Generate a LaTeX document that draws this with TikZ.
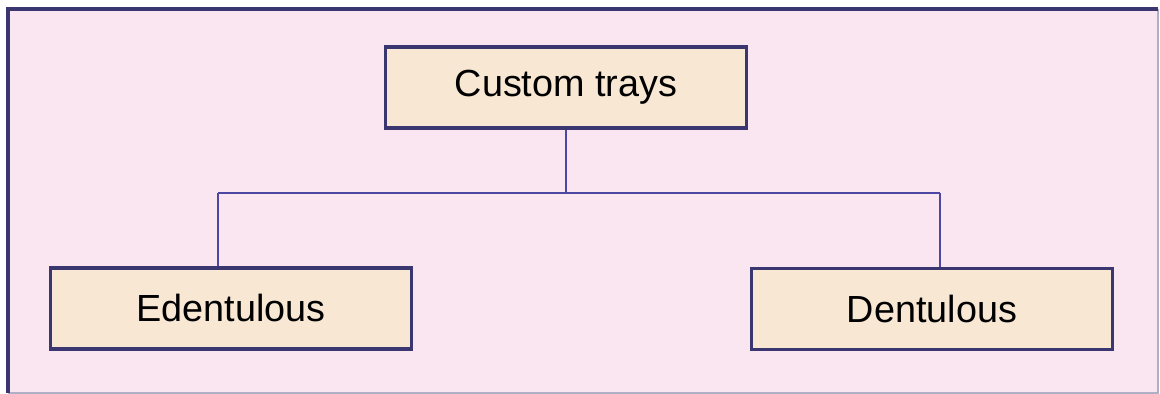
\documentclass[tikz,border=0pt]{standalone}
\usepackage{fontspec}
\setmainfont{Liberation Sans}
\definecolor{panelpink}{HTML}{F9E6F0}
\definecolor{trayfill}{HTML}{F8E7D2}
\definecolor{trayline}{HTML}{3A3670}
\definecolor{linkblue}{HTML}{4B47A3}
\tikzset{
  traybox/.style={draw=trayline, line width=2pt, fill=trayfill,
    minimum width=7.22cm, minimum height=1.62cm, inner sep=0pt,
    font=\fontsize{21.5}{26}\selectfont},
  link/.style={draw=linkblue, line width=1.4pt}
}
\begin{document}
\begin{tikzpicture}[x=0.02cm, y=-0.02cm]
            \useasboundingbox (0,0) rectangle (1160,394);
            \fill[white] (0,0) rectangle (1160,394);
            \fill[panelpink] (8,9) rectangle (1158,393);
            \draw[trayline!40, line width=0.6pt] (1158,9) -- (1158,393) -- (8,393);
            \draw[trayline, line width=2pt] (8,393) -- (8,9) -- (1158,9);

            \node[traybox] (trays) at (566,87.5) {Custom trays};
            \node[traybox] (edent) at (231,308.5) {Edentulous};
            \node[traybox] (dent) at (932,309) {Dentulous};

            \coordinate (leftdrop) at (218,193);
            \coordinate (rightdrop) at (940,193);
            \draw[link] (trays.south) -- (trays.south |- leftdrop);
            \draw[link] (leftdrop) -- (rightdrop);
            \draw[link] (leftdrop) -- (leftdrop |- edent.north);
            \draw[link] (rightdrop) -- (rightdrop |- dent.north);
        \end{tikzpicture}
\end{document}
